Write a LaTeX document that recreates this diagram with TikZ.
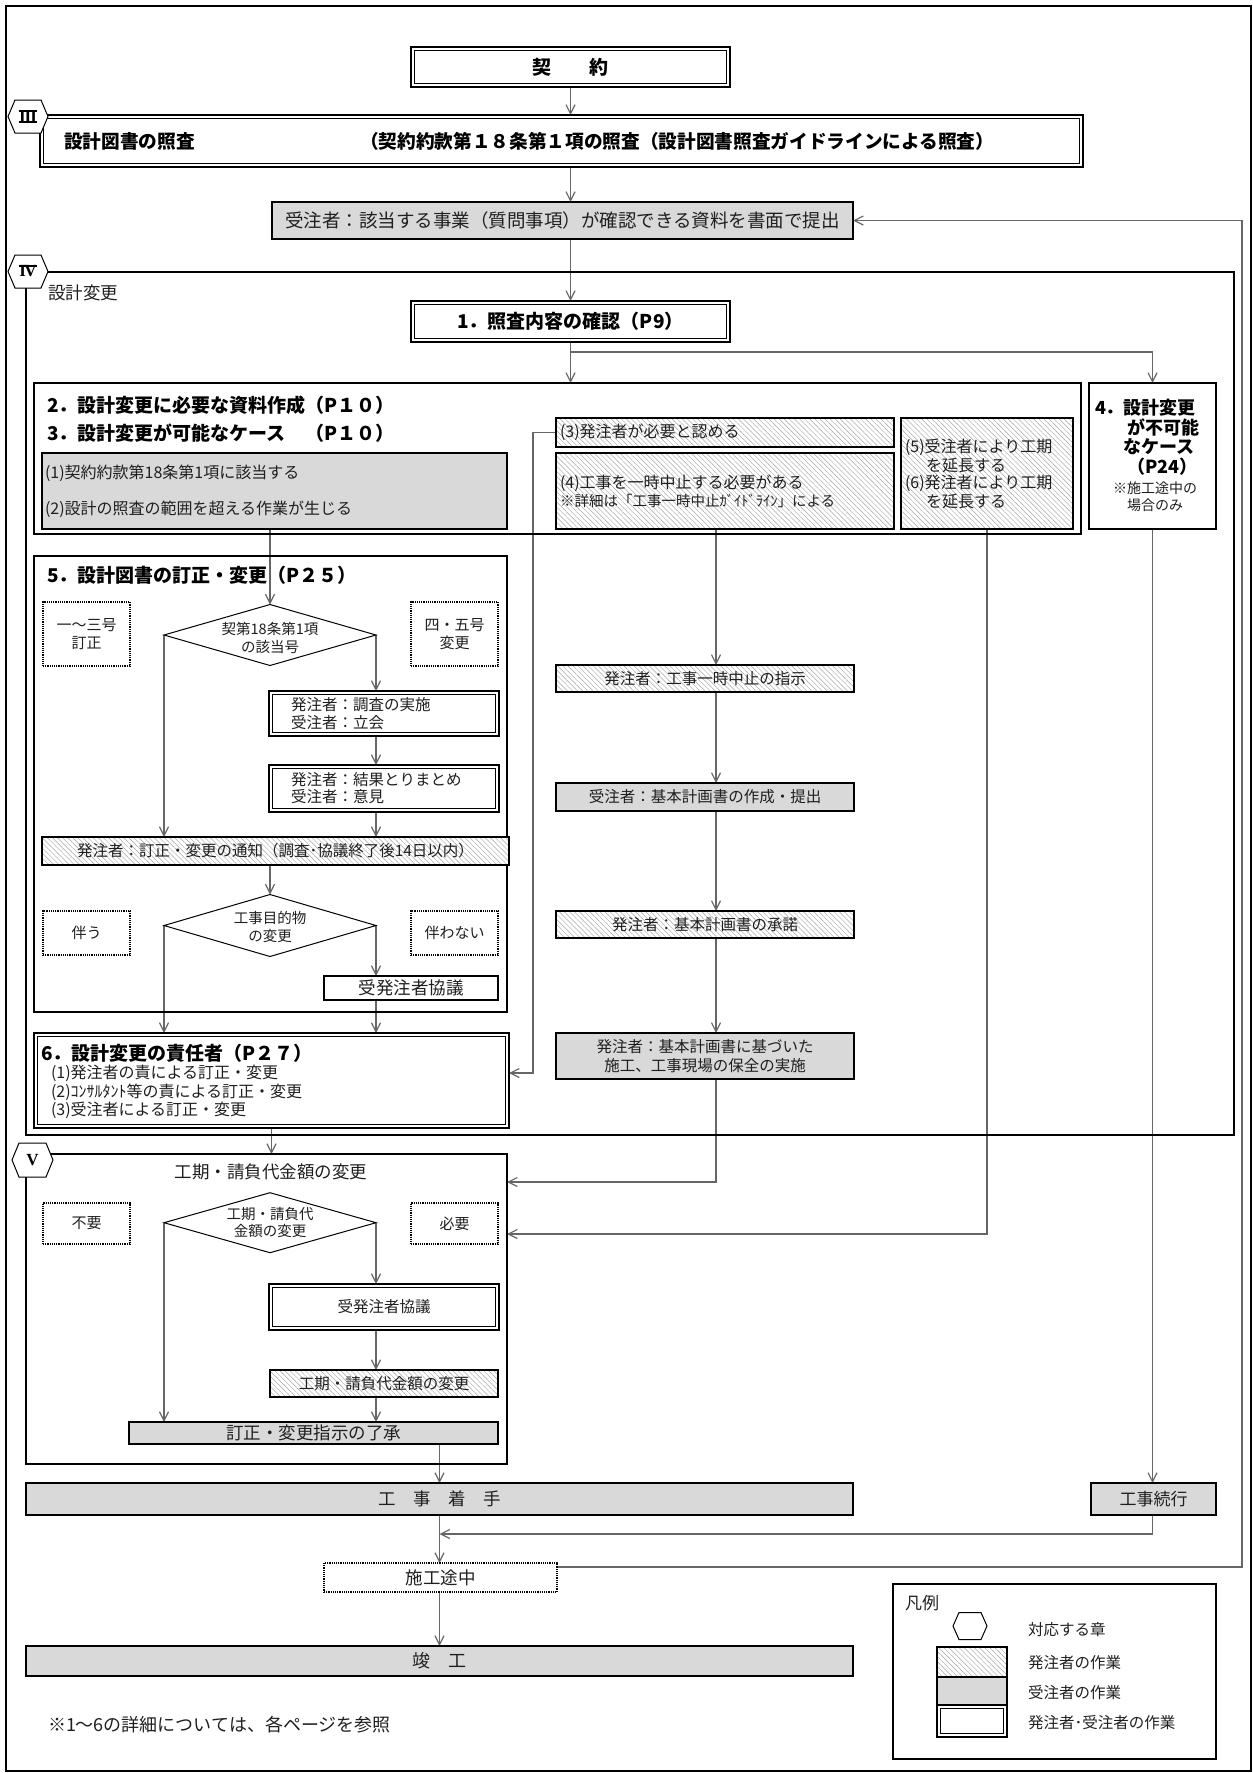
\documentclass[tikz,border=0pt]{standalone}
\usepackage{fontspec}
\setmainfont{Noto Sans CJK JP}
\newfontfamily\romfont{Liberation Serif}
\usetikzlibrary{arrows.meta,patterns.meta,shapes.geometric,backgrounds}
\definecolor{gfill}{RGB}{217,217,217}
\newcommand\fsz[2]{\fontsize{#1}{#2}\selectfont}
\newcommand\mkbox[7]{\node[#6,minimum width={#4-#2},minimum height={#5-#3}] (#1) at ({(#2+#4)/2},{(#3+#5)/2}) {#7};}
\newcommand\hexg[7]{%
 \draw[line width=1pt,fill=white] ({#2-#4},#3) -- ({#2-#4+#6},{#3-#5}) -- ({#2+#4-#6},{#3-#5}) -- ({#2+#4},#3) -- ({#2+#4-#6},{#3+#5}) -- ({#2-#4+#6},{#3+#5}) -- cycle;
 \node[text=black] (#1) at (#2,#3) {#7};}
\begin{document}
\begin{tikzpicture}[x=1pt,y=-1pt,
 every node/.style={inner sep=0pt,outer sep=0pt,text=black!88},
 sbox/.style={draw,line width=2pt},
 hatch/.style={sbox,preaction={fill=white},pattern={Lines[angle=-45,distance=3.6pt,line width=0.45pt]},pattern color=black!35},
 grayb/.style={sbox,fill=gfill},
 whiteb/.style={sbox,fill=white},
 dbl/.style={draw,line width=2.4pt,fill=white,path picture={\draw[line width=0.8pt] ([xshift=3.6pt,yshift=-3.6pt]path picture bounding box.north west) rectangle ([xshift=-3.6pt,yshift=3.6pt]path picture bounding box.south east);}},
 dotb/.style={draw,line width=1.2pt,densely dotted,fill=white},
 cont/.style={draw,line width=2pt},
 conn/.style={draw=black!60,line width=1.15pt},
 arr/.style={conn,-{Straight Barb[length=9pt,width=9pt]}},
 dia/.style={diamond,draw,line width=1pt,fill=white,aspect=3.5},
 tb/.style={font=\fsz{19}{22}\bfseries,text=black},
 t16/.style={font=\fsz{16}{19}},
 t15/.style={font=\fsz{15.5}{18.5}},
 t14/.style={font=\fsz{14.5}{17.5}},
 t17/.style={font=\fsz{17.5}{20}},
 lw/.style={anchor=west},
 rom/.style={font=\romfont\bfseries\fsz{17}{17}}
]
\useasboundingbox (0,0) rectangle (1253,1773);
\draw[line width=2pt] (6,6) rectangle (1251,1771);

% containers
\mkbox{c4}{26}{272}{1234}{1135}{cont}{}
\mkbox{c23}{34}{383}{1081}{534}{cont}{}
\mkbox{c5}{34}{556}{507}{1012}{cont}{}
\mkbox{c5v}{26}{1154}{507}{1464}{cont}{}
\mkbox{leg}{893}{1584}{1216}{1759}{cont}{}

% top
\mkbox{keiyaku}{411}{47}{730}{87}{dbl,font=\fsz{19}{22}\bfseries,text=black}{契　　約}
\mkbox{sec3}{40}{115}{1083}{167}{dbl}{}
\node[lw,font=\fsz{18.67}{22}\bfseries,text=black] (t3a) at (64,141) {設計図書の照査};
\node[lw,font=\fsz{18.67}{22}\bfseries,text=black] (t3b) at (360,141) {（契約約款第１８条第１項の照査（設計図書照査ガイドラインによる照査）};
\mkbox{ukesub}{272}{202}{853}{239}{grayb,line width=1.5pt,font=\fsz{18.5}{22}}{受注者：該当する事業（質問事項）が確認できる資料を書面で提出}

\node[lw,t17] (t4) at (48,293) {設計変更};
\mkbox{conf}{411}{301}{730}{342}{dbl,font=\fsz{19}{22}\bfseries,text=black}{1．照査内容の確認（P9）}

% section 2/3
\node[lw,tb] (t2) at (47,405) {2．設計変更に必要な資料作成（P１０）};
\node[lw,tb] (t3) at (47,433) {3．設計変更が可能なケース};
\node[anchor=east,tb] (t3p) at (t2.east |- t3) {（P１０）};
\mkbox{g12}{42}{453}{507}{529}{grayb}{}
\node[lw,t16] (g12a) at (45,473) {(1)契約約款第18条第1項に該当する};
\node[lw,t16] (g12b) at (45,509) {(2)設計の照査の範囲を超える作業が生じる};
\mkbox{b3}{556}{418}{894}{447}{hatch}{}
\node[lw,t16] (b3t) at (560,432.5) {(3)発注者が必要と認める};
\mkbox{b4}{556}{453}{894}{529}{hatch}{}
\node[lw,t16] (b4a) at (560,483) {(4)工事を一時中止する必要がある};
\node[lw,t14] (b4b) at (560,501) {※詳細は「工事一時中止ｶﾞｲﾄﾞﾗｲﾝ」による};
\mkbox{b56}{901}{418}{1073}{529}{hatch}{}
\node[lw,t16] (b56a) at (905,447) {(5)受注者により工期};
\node[lw,t16] (b56b) at (926,465) {を延長する};
\node[lw,t16] (b56c) at (905,483) {(6)発注者により工期};
\node[lw,t16] (b56d) at (926,501) {を延長する};
\mkbox{b4n}{1089}{383}{1216}{529}{whiteb}{}
\node[lw,font=\fsz{18}{21}\bfseries,text=black] (b4na) at (1095,408) {4．設計変更};
\node[lw,font=\fsz{18}{21}\bfseries,text=black] (b4nb) at (1127,427) {が不可能};
\node[lw,font=\fsz{18}{21}\bfseries,text=black] (b4nc) at (1123,447) {なケース};
\node[lw,font=\fsz{18}{21}\bfseries,text=black] (b4nd) at (1127,467) {（P24）};
\node[font=\fsz{14}{17}] (b4ne) at (1155,488) {※施工途中の};
\node[font=\fsz{14}{17}] (b4nf) at (1155,505) {場合のみ};

% section 5
\node[lw,tb] (t5) at (47,575) {5．設計図書の訂正・変更（P２５）};
\mkbox{d1}{43}{602}{130}{666}{dotb,align=center,font=\fsz{15}{18.5}}{一～三号\\訂正}
\mkbox{d2}{411}{602}{498}{666}{dotb,align=center,font=\fsz{15}{18.5}}{四・五号\\変更}
\node[dia,minimum width=212pt,minimum height=61pt] (dia1) at (270,635) {};
\node[align=center,t14] (dia1t) at (270,638) {契第18条第1項\\の該当号};
\mkbox{bs1}{269}{691}{499}{736}{dbl}{}
\node[lw,t15] (bs1a) at (291,705) {発注者：調査の実施};
\node[lw,t15] (bs1b) at (291,723) {受注者：立会};
\mkbox{bs2}{269}{765}{499}{812}{dbl}{}
\node[lw,t15] (bs2a) at (291,780) {発注者：結果とりまとめ};
\node[lw,t15] (bs2b) at (291,797) {受注者：意見};
\mkbox{bnot}{42}{837}{509}{865}{hatch,t15}{発注者：訂正・変更の通知（調査･協議終了後14日以内）}
\node[dia,minimum width=212pt,minimum height=62pt] (dia2) at (270,925.5) {};
\node[align=center,t14] (dia2t) at (270,927) {工事目的物\\の変更};
\mkbox{d3}{43}{911}{130}{955}{dotb,font=\fsz{15}{18}}{伴う}
\mkbox{d4}{411}{911}{498}{955}{dotb,font=\fsz{15}{18}}{伴わない}
\mkbox{bk1}{324}{976}{498}{1000}{whiteb,t17}{受発注者協議}

% section 6
\mkbox{b6}{34}{1033}{509}{1128}{dbl}{}
\node[lw,tb] (b6a) at (41,1053) {6．設計変更の責任者（P２７）};
\node[lw,t16] (b6b) at (51,1073) {(1)発注者の責による訂正・変更};
\node[lw,t16] (b6c) at (51,1092) {(2)ｺﾝｻﾙﾀﾝﾄ等の責による訂正・変更};
\node[lw,t16] (b6d) at (51,1110) {(3)受注者による訂正・変更};

% middle column
\mkbox{bt1}{556}{665}{854}{692}{hatch,t15}{発注者：工事一時中止の指示}
\mkbox{bt2}{556}{783}{854}{811}{grayb,t15}{受注者：基本計画書の作成・提出}
\mkbox{bt3}{556}{911}{854}{938}{hatch,t15}{発注者：基本計画書の承諾}
\mkbox{bt4}{556}{1033}{854}{1079}{grayb,align=center,font=\fsz{15.5}{19.5}}{発注者：基本計画書に基づいた\\施工、工事現場の保全の実施}

% section V
\node[t17] (tv) at (271,1172) {工期・請負代金額の変更};
\mkbox{d5}{43}{1203}{130}{1244}{dotb,font=\fsz{15}{18}}{不要}
\mkbox{d6}{411}{1203}{498}{1244}{dotb,font=\fsz{15}{18}}{必要}
\node[dia,minimum width=212pt,minimum height=60pt] (dia3) at (270,1222.7) {};
\node[align=center,t14] (dia3t) at (270,1222.5) {工期・請負代\\金額の変更};
\mkbox{bk2}{269}{1284}{499}{1330}{dbl,t15}{受発注者協議}
\mkbox{bkg}{270}{1370}{498}{1397}{hatch,t15}{工期・請負代金額の変更}
\mkbox{bry}{129}{1422}{498}{1444}{grayb,t17}{訂正・変更指示の了承}

% bottom
\mkbox{bst}{26}{1483}{853}{1515}{grayb,t17}{工　事　着　手}
\mkbox{bzk}{1091}{1483}{1216}{1515}{grayb,font=\fsz{17}{20}}{工事続行}
\mkbox{bto}{324}{1563}{557}{1592}{dotb,t17}{施工途中}
\mkbox{bsk}{26}{1646}{853}{1676}{grayb,font=\fsz{18}{20}}{竣　工}
\node[lw,font=\fsz{18}{20}] (note) at (48,1725) {※1～6の詳細については、各ページを参照};

% legend
\node[lw,font=\fsz{17}{20}] (legt) at (905,1603) {凡例};
\hexg{hl}{970}{1626}{17}{13.5}{6}{}
\mkbox{lg1}{937}{1647}{1007}{1677}{hatch}{}
\mkbox{lg2}{937}{1677}{1007}{1705}{grayb}{}
\mkbox{lg3}{937}{1705}{1007}{1737}{dbl}{}
\node[lw,t15] (lga) at (1028,1630) {対応する章};
\node[lw,t15] (lgb) at (1028,1663) {発注者の作業};
\node[lw,t15] (lgc) at (1028,1693) {受注者の作業};
\node[lw,t15] (lgd) at (1028,1723) {発注者･受注者の作業};

% chapter hexagons
\hexg{h3}{28}{116.5}{20}{16.5}{7}{\romfont\bfseries\fsz{17}{17}I\kern-1pt I\kern-1pt I}
\draw[line width=1.4pt] ([xshift=-0.5pt]h3.north west) -- ([xshift=0.5pt]h3.north east);
\draw[line width=1.4pt] ([xshift=-0.5pt]h3.south west) -- ([xshift=0.5pt]h3.south east);
\hexg{h4}{28}{271.5}{20}{16.5}{7}{\romfont\bfseries\fsz{17}{17}I\kern-1.8pt V}
\draw[line width=1.4pt] ([xshift=-0.5pt]h4.north west) -- ([xshift=0.5pt]h4.north east);
\hexg{h5}{32.5}{1160}{20.5}{17}{7}{\romfont\bfseries\fsz{17}{17}V}

% helper coordinates
\coordinate (yd) at (0,352);
\coordinate (n1) at (533,1073);
\coordinate (xc4) at (716,0);
\coordinate (yq) at (0,1182);
\coordinate (yr) at (0,1234);
\coordinate (yz) at (0,1534);
\coordinate (xf) at (1242,0);

\begin{pgfonlayer}{background}
\draw[arr] (keiyaku.south) -- (keiyaku.south |- sec3.north);
\draw[arr] (sec3.south -| keiyaku.south) -- (ukesub.north -| keiyaku.south);
\draw[arr] (ukesub.south -| keiyaku.south) -- (conf.north -| keiyaku.south);
\draw[arr] (conf.south) -- (c23.north -| conf.south);
\draw[arr] (conf.south |- yd) -| (b4n.north);
\draw[arr] (g12.south -| dia1.north) -- (dia1.north);
\draw[arr] (dia1.west) -- (dia1.west |- bnot.north);
\draw[arr] (dia1.east) -- (dia1.east |- bs1.north);
\draw[arr] (bs1.south -| dia1.east) -- (bs2.north -| dia1.east);
\draw[arr] (bs2.south -| dia1.east) -- (bnot.north -| dia1.east);
\draw[arr] (bnot.south -| dia2.north) -- (dia2.north);
\draw[arr] (dia2.west) -- (dia2.west |- b6.north);
\draw[arr] (dia2.east) -- (dia2.east |- bk1.north);
\draw[arr] (bk1.south -| dia2.east) -- (b6.north -| dia2.east);
\draw[arr] (b3.west) -| (n1) -- (n1 -| b6.east);
\draw[arr] (b4.south -| xc4) -- (bt1.north -| xc4);
\draw[arr] (bt1.south -| xc4) -- (bt2.north -| xc4);
\draw[arr] (bt2.south -| xc4) -- (bt3.north -| xc4);
\draw[arr] (bt3.south -| xc4) -- (bt4.north -| xc4);
\draw[arr] (bt4.south -| xc4) |- (c5v.east |- yq);
\draw[arr] (b56.south) |- (c5v.east |- yr);
\draw[arr] (b6.south) -- (b6.south |- c5v.north);
\draw[arr] (dia3.west) -- (dia3.west |- bry.north);
\draw[arr] (dia3.east) -- (dia3.east |- bk2.north);
\draw[arr] (bk2.south -| dia3.east) -- (bkg.north -| dia3.east);
\draw[arr] (bkg.south -| dia3.east) -- (bry.north -| dia3.east);
\draw[arr] (bry.south -| bst.north) -- (bst.north);
\draw[arr] (b4n.south) -- (b4n.south |- bzk.north);
\draw[arr] (bzk.south -| b4n.south) |- (bst.south |- yz);
\draw[arr] (bst.south) -- (bto.north -| bst.south);
\draw[arr] (bto.south -| bst.south) -- (bsk.north -| bst.south);
\draw[arr] ([yshift=-4pt]bto.north east) -| (xf |- ukesub.east) -- (ukesub.east);
\end{pgfonlayer}
\end{tikzpicture}
\end{document}
